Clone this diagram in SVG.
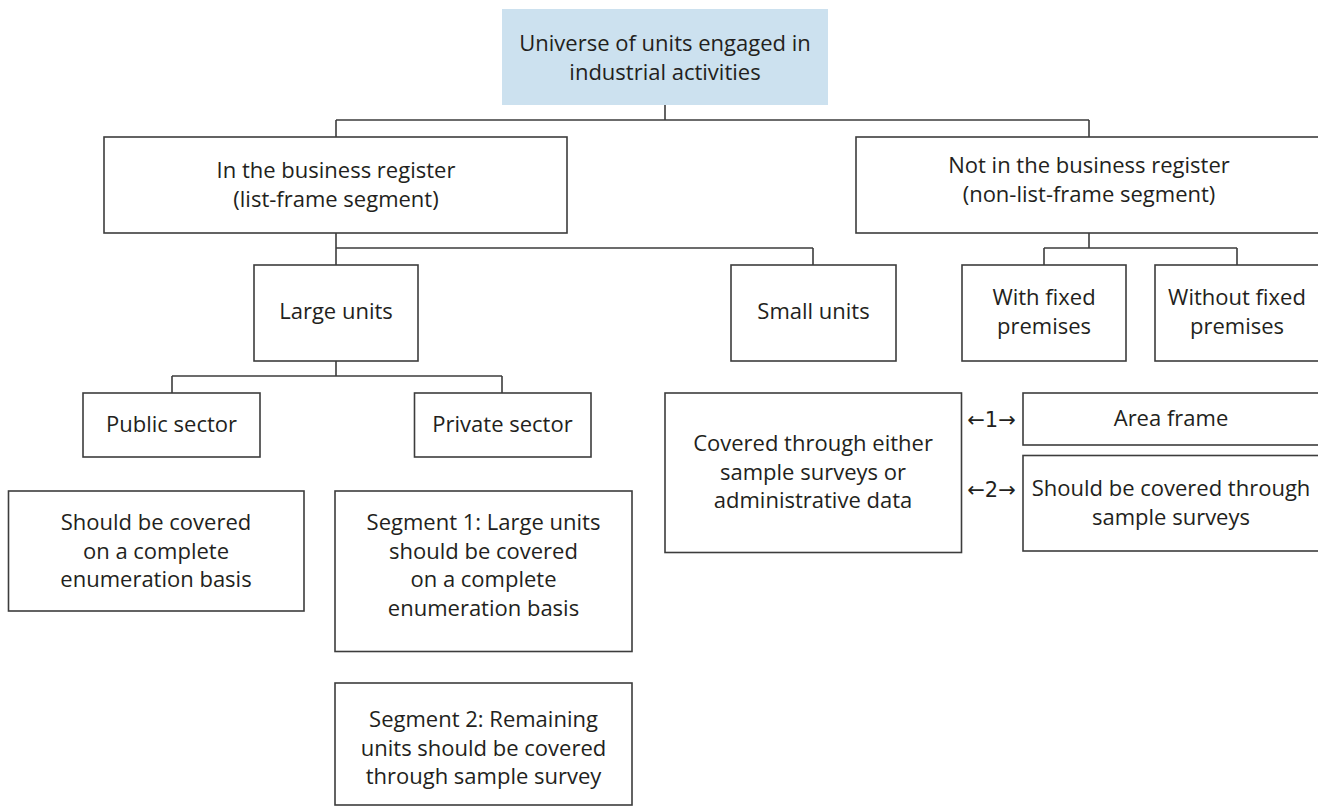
<svg xmlns="http://www.w3.org/2000/svg" width="1318" height="808" viewBox="0 0 1318 808">
<style>
.box{fill:#ffffff;stroke:#3d3d3d;stroke-width:1.6}
.top{fill:#cce1ef;stroke:none}
.t{font-family:"Open Sans","Liberation Sans",sans-serif;font-size:22px;fill:#231f20;text-anchor:middle}
.ar{font-family:"DejaVu Sans","Open Sans",sans-serif;font-size:21px;fill:#231f20;text-anchor:middle}
.c{fill:none;stroke:#3d3d3d;stroke-width:1.6}
</style>
<rect x="0" y="0" width="1318" height="808" fill="#ffffff"/>
<g id="connectors">
<path class="c" d="M665 105V120M336 120H1089M336 120V137M1089 120V137"/>
<path class="c" d="M336 233V248M336 248H813M336 248V265M813 248V265"/>
<path class="c" d="M1089 233V248M1044 248H1237M1044 248V265M1237 248V265"/>
<path class="c" d="M336 361V376M172 376H502M172 376V393M502 376V393"/>
</g>
<g id="universe">
<rect class="top" x="502" y="9" width="326" height="96"/>
<text class="t" x="665" y="51">Universe of units engaged in</text>
<text class="t" x="665" y="79.5">industrial activities</text>
</g>
<g id="in-register">
<rect class="box" x="104" y="137" width="463" height="96"/>
<text class="t" x="336" y="178">In the business register</text>
<text class="t" x="336" y="206.5">(list-frame segment)</text>
</g>
<g id="not-in-register">
<rect class="box" x="856" y="137" width="470" height="96"/>
<text class="t" x="1089" y="173">Not in the business register</text>
<text class="t" x="1089" y="201.5">(non-list-frame segment)</text>
</g>
<g id="large-units">
<rect class="box" x="254" y="265" width="164" height="96"/>
<text class="t" x="336" y="319">Large units</text>
</g>
<g id="small-units">
<rect class="box" x="731" y="265" width="165" height="96"/>
<text class="t" x="813.5" y="319">Small units</text>
</g>
<g id="with-fixed">
<rect class="box" x="962" y="265" width="164" height="96"/>
<text class="t" x="1044" y="305">With fixed</text>
<text class="t" x="1044" y="333.5">premises</text>
</g>
<g id="without-fixed">
<rect class="box" x="1155" y="265" width="170" height="96"/>
<text class="t" x="1237" y="305">Without fixed</text>
<text class="t" x="1237" y="333.5">premises</text>
</g>
<g id="public-sector">
<rect class="box" x="83" y="393" width="177" height="64"/>
<text class="t" x="171.5" y="432">Public sector</text>
</g>
<g id="private-sector">
<rect class="box" x="414.5" y="393" width="176.5" height="64"/>
<text class="t" x="502.5" y="432">Private sector</text>
</g>
<g id="public-coverage">
<rect class="box" x="8.5" y="491" width="295.5" height="120"/>
<text class="t" x="156" y="530">Should be covered</text>
<text class="t" x="156" y="558.5">on a complete</text>
<text class="t" x="156" y="587">enumeration basis</text>
</g>
<g id="segment-1">
<rect class="box" x="335" y="491" width="297" height="160.5"/>
<text class="t" x="483.5" y="530">Segment 1: Large units</text>
<text class="t" x="483.5" y="558.5">should be covered</text>
<text class="t" x="483.5" y="587">on a complete</text>
<text class="t" x="483.5" y="615.5">enumeration basis</text>
</g>
<g id="segment-2">
<rect class="box" x="335" y="683" width="297" height="122"/>
<text class="t" x="483.5" y="727">Segment 2: Remaining</text>
<text class="t" x="483.5" y="755.5">units should be covered</text>
<text class="t" x="483.5" y="784">through sample survey</text>
</g>
<g id="small-coverage">
<rect class="box" x="665" y="393" width="296.5" height="159.5"/>
<text class="t" x="813" y="451">Covered through either</text>
<text class="t" x="813" y="479.5">sample surveys or</text>
<text class="t" x="813" y="508">administrative data</text>
</g>
<g id="area-frame">
<rect class="box" x="1023" y="393" width="305" height="52"/>
<text class="t" x="1171" y="426">Area frame</text>
</g>
<g id="sample-surveys">
<rect class="box" x="1023" y="455.5" width="305" height="95.5"/>
<text class="t" x="1171" y="496">Should be covered through</text>
<text class="t" x="1171" y="524.5">sample surveys</text>
</g>
<g id="link-labels">
<text class="ar" x="991.5" y="427">←1→</text>
<text class="ar" x="991.5" y="497">←2→</text>
</g>
</svg>
